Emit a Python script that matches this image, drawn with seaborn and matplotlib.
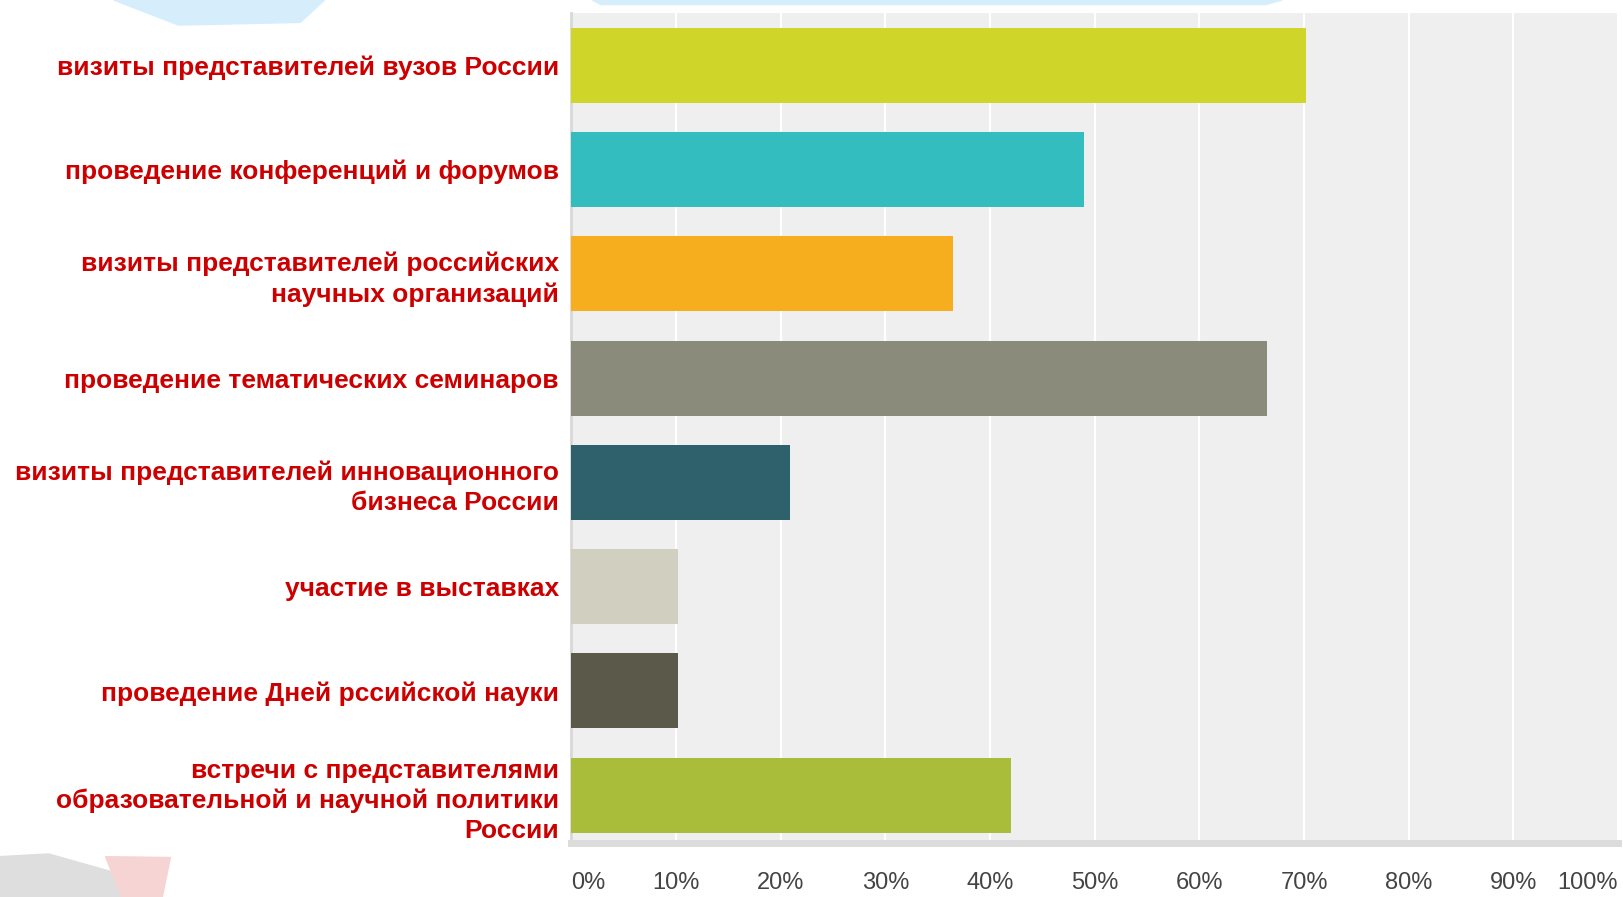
import matplotlib
matplotlib.use("Agg")
import matplotlib.pyplot as plt
from matplotlib.patches import Polygon
import pandas as pd
import seaborn as sns

# survey answers, top to bottom
categories = [
    "визиты представителей вузов России",
    "проведение конференций и форумов",
    "визиты представителей российских\nнаучных организаций",
    "проведение тематических семинаров",
    "визиты представителей инновационного\nбизнеса России",
    "участие в выставках",
    "проведение Дней рссийской науки",
    "встречи с представителями\nобразовательной и научной политики\nРоссии",
]
shares = [70.2, 49.0, 36.5, 66.5, 20.9, 10.2, 10.2, 42.0]
bar_colors = ["#cfd629", "#34bdbe", "#f6ae1e", "#8b8b7b",
              "#2f616d", "#d0cfc0", "#5b5949", "#aabd3a"]
x_ticks = [0, 10, 20, 30, 40, 50, 60, 70, 80, 90, 100]
x_tick_labels = ["0%", "10%", "20%", "30%", "40%", "50%", "60%", "70%", "80%", "90%", "100%"]

df = pd.DataFrame({"category": categories, "share": shares})

sns.set_style("white")
plt.rcParams["font.family"] = ["Liberation Sans", "DejaVu Sans"]

fig = plt.figure(figsize=(16.23, 8.97), dpi=100)

# faint background decorations from the slide
fig.patches.append(Polygon([(0.07, 1.0), (0.2, 1.0), (0.185, 0.975), (0.11, 0.972)],
                           closed=True, transform=fig.transFigure, color="#d6eefc", zorder=0))
fig.patches.append(Polygon([(0.365, 1.0), (0.79, 1.0), (0.78, 0.995), (0.37, 0.995)],
                           closed=True, transform=fig.transFigure, color="#d6eefc", zorder=0))
fig.patches.append(Polygon([(0.0, 0.0), (0.0, 0.045), (0.03, 0.048), (0.075, 0.025), (0.09, 0.0)],
                           closed=True, transform=fig.transFigure, color="#dedede", zorder=0))
fig.patches.append(Polygon([(0.065, 0.045), (0.105, 0.044), (0.1, 0.0), (0.075, 0.0)],
                           closed=True, transform=fig.transFigure, color="#f6d4d4", zorder=0))

ax = fig.add_axes([0.352, 0.06, 0.645, 0.926])
ax.set_facecolor("#efefef")

sns.barplot(data=df, y="category", x="share", hue="category", palette=bar_colors,
            orient="h", width=0.72, legend=False, saturation=1, linewidth=0,
            ax=ax, zorder=3)

ax.set_xlim(0, 100)
ax.set_ylim(7.46, -0.506)
ax.set_xticks(x_ticks)
ax.set_xticklabels(x_tick_labels, fontsize=17, color="#444444")
tl = ax.get_xticklabels()
tl[0].set_horizontalalignment("left")
tl[-1].set_horizontalalignment("right")
ax.tick_params(axis="x", length=0, pad=21)
ax.tick_params(axis="y", length=0, pad=9)
for lab in ax.get_yticklabels():
    lab.set_fontsize(19)
    lab.set_fontweight("bold")
    lab.set_color("#cc0000")
    lab.set_linespacing(1.3)
ax.set_xlabel("")
ax.set_ylabel("")

ax.grid(axis="x", color="white", linewidth=1.6, zorder=1)
ax.set_axisbelow(True)
for side in ["top", "right"]:
    ax.spines[side].set_visible(False)
ax.spines["left"].set_color("#d8d8d8")
ax.spines["left"].set_linewidth(2)
ax.spines["bottom"].set_color("#dcdcdc")
ax.spines["bottom"].set_linewidth(5)

fig.savefig("out.png", dpi=100)
